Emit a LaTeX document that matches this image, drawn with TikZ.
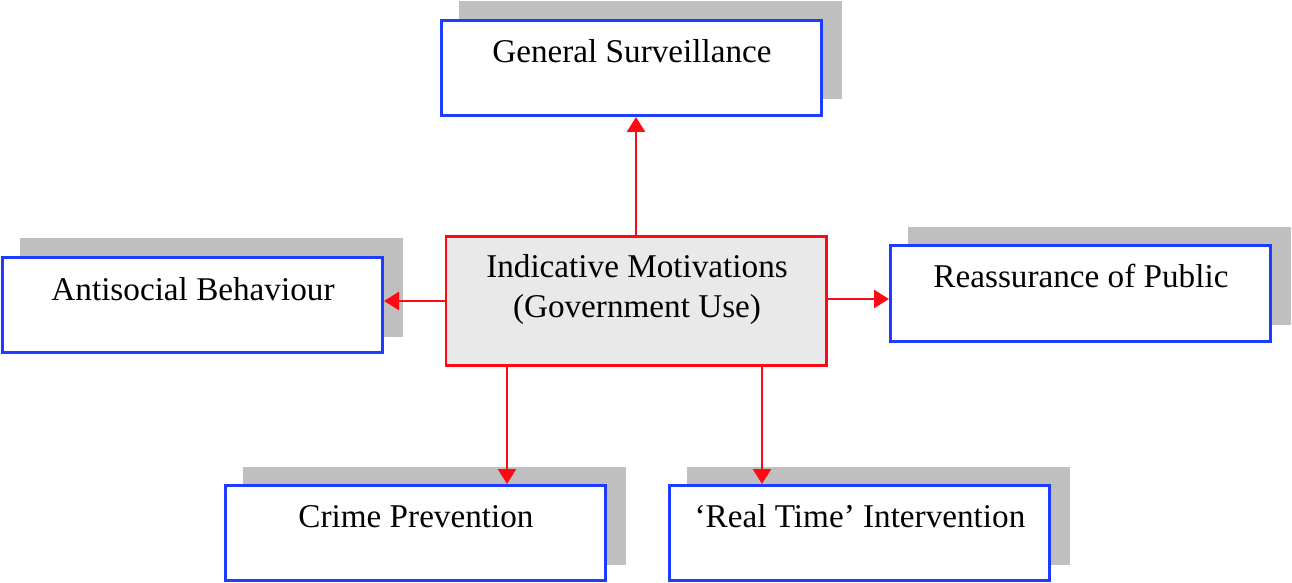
\documentclass[tikz,border=0pt]{standalone}
\usepackage{fontspec}
\setmainfont{Liberation Serif}
\usetikzlibrary{arrows.meta,backgrounds}
\definecolor{boxblue}{RGB}{30,60,255}
\definecolor{arrred}{RGB}{255,10,20}
\definecolor{shadowgray}{RGB}{191,191,191}
\definecolor{centerfill}{RGB}{233,233,233}
\tikzset{
  outbox/.style={draw=boxblue, fill=white, line width=1.3pt, minimum width=190.2pt, minimum height=47.7pt, inner sep=0pt},
  centerbox/.style={draw=arrred, fill=centerfill, line width=1.3pt, minimum width=190.2pt, minimum height=64.7pt, inner sep=0pt},
  lbl/.style={anchor=base, inner sep=0pt, font=\fontsize{16.6}{19.5}\selectfont, align=center},
  conn/.style={draw=arrred, line width=1.3pt, -{Triangle[length=7.5pt,width=9pt]}},
  shadowfill/.style={fill=shadowgray}
}
\begin{document}
\begin{tikzpicture}[x=0.5pt,y=-0.5pt]
\useasboundingbox (0,0) rectangle (1292,583);
% boxes
\node[outbox] (gs) at (631.5,68) {};
\node[outbox] (anti) at (192.5,305) {};
\node[outbox] (reas) at (1080.5,293.5) {};
\node[outbox] (crime) at (415.5,533) {};
\node[outbox] (real) at (859.5,533) {};
\node[centerbox] (ctr) at (636,301) {};
% shadows
\begin{pgfonlayer}{background}
\foreach \n in {gs,anti,reas,crime,real}{
  \fill[shadowfill] ([shift={(18.5,-17.5)}]\n.south west) rectangle ([shift={(18.5,-17.5)}]\n.north east);
}
\end{pgfonlayer}
% labels
\node[lbl] (tgs) at (632,63) {General Surveillance};
\node[lbl] (tanti) at (193,300) {Antisocial Behaviour};
\node[lbl] (treas) at (1081,287) {Reassurance of Public};
\node[lbl] (tcrime) at (416,527) {Crime Prevention};
\node[lbl] (treal) at (860,527) {‘Real Time’ Intervention};
\node[lbl] (tctr1) at (637,278) {Indicative Motivations};
\node[lbl] (tctr2) at (637,317) {(Government Use)};
% connectors
\coordinate (cu) at (636,235);
\coordinate (cl) at (445,301);
\coordinate (cr) at (828,299);
\coordinate (cd1) at (507,367);
\coordinate (cd2) at (762,367);
\draw[conn] (cu) -- (cu |- gs.south);
\draw[conn] (cl) -- (cl -| anti.east);
\draw[conn] (cr) -- (cr -| reas.west);
\draw[conn] (cd1) -- (cd1 |- crime.north);
\draw[conn] (cd2) -- (cd2 |- real.north);
\end{tikzpicture}
\end{document}
